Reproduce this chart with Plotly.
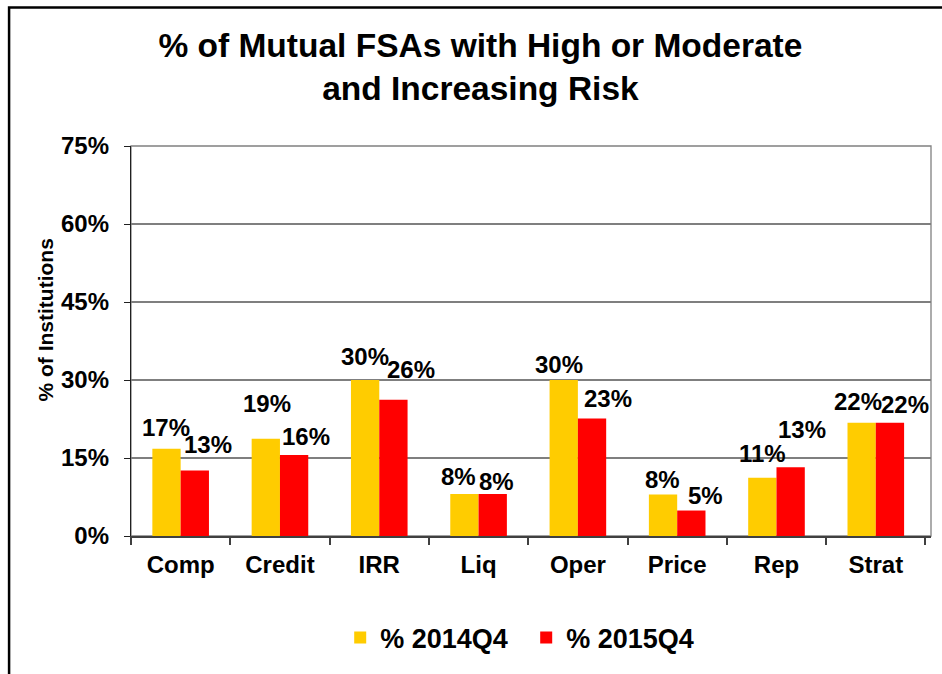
import plotly.graph_objects as go

categories = ["Comp", "Credit", "IRR", "Liq", "Oper", "Price", "Rep", "Strat"]
values_2014 = [16.8, 18.7, 30.0, 8.1, 30.0, 8.0, 11.2, 21.8]
values_2015 = [12.6, 15.6, 26.2, 8.1, 22.6, 4.9, 13.2, 21.8]
series_names = ["% 2014Q4", "% 2015Q4"]
y_ticks = [0, 15, 30, 45, 60, 75]

# label nudges (pixels): [x offset from bar centre, height of label centre above bar top]
nudge_2014 = [(0, 21), (1, 35), (0, 24), (-6, 17), (-5, 16), (0, 15), (0, 24), (-4, 21)]
nudge_2015 = [(13, 26), (12, 18), (18, 30), (4, 12), (16, 20), (14, 15), (11, 38), (15, 18)]

FONT = "Arial, Liberation Sans, sans-serif"
YELLOW = "#FFCC00"
RED = "#FF0000"

fig = go.Figure()
fig.add_trace(go.Bar(x=categories, y=values_2014, name=series_names[0],
                     marker=dict(color=YELLOW, line=dict(width=0))))
fig.add_trace(go.Bar(x=categories, y=values_2015, name=series_names[1],
                     marker=dict(color=RED, line=dict(width=0))))

half = 14.2
annotations = []
for vals, nudges, side in ((values_2014, nudge_2014, -1), (values_2015, nudge_2015, 1)):
    for c, v, (dx, dy) in zip(categories, vals, nudges):
        annotations.append(dict(
            x=c, y=v, xref="x", yref="y", text=f"{round(v)}%", showarrow=False,
            xanchor="center", yanchor="middle", xshift=side * half + dx, yshift=dy,
            font=dict(family=FONT, size=24, color="black", weight="bold")))

annotations.append(dict(
    x=-0.1068, y=0.554, xref="paper", yref="paper", text="% of Institutions",
    textangle=-90, showarrow=False, xanchor="center", yanchor="middle",
    font=dict(family=FONT, size=21, color="black", weight="bold")))

fig.update_layout(
    width=942, height=674,
    margin=dict(l=130.5, r=11, t=146, b=138),
    paper_bgcolor="white", plot_bgcolor="white",
    barmode="group", bargap=0.43, bargroupgap=0,
    title=dict(text="% of Mutual FSAs with High or Moderate<br>and Increasing Risk",
               x=0.51, xanchor="center", xref="container",
               y=1 - 56.5 / 674, yanchor="middle", yref="container",
               font=dict(family=FONT, size=33.5, color="black", weight="bold")),
    xaxis=dict(showline=True, linecolor="#404040", linewidth=2,
               ticks="outside", tickson="boundaries", ticklen=7, tickcolor="#404040",
               tickwidth=1.5, showgrid=False,
               tickfont=dict(family=FONT, size=24, color="black", weight="bold"),
               ticklabelstandoff=6),
    yaxis=dict(range=[0, 75], tickvals=y_ticks, ticktext=[f"{t}%" for t in y_ticks],
               showline=True, linecolor="#202020", linewidth=1.3,
               ticks="outside", ticklen=6, tickcolor="#202020", tickwidth=1.3,
               showgrid=True, gridcolor="#7f7f7f", gridwidth=1.5, zeroline=False,
               tickfont=dict(family=FONT, size=24, color="black", weight="bold"),
               ticklabelstandoff=10),
    showlegend=True,
    legend=dict(orientation="h", x=0.494, xanchor="center", y=-0.2615, yanchor="middle",
                font=dict(family=FONT, size=27, color="black", weight="bold"),
                itemwidth=30, entrywidth=141, entrywidthmode="pixels",
                traceorder="normal"),
    annotations=annotations,
    shapes=[
        dict(type="rect", xref="paper", yref="paper", x0=0, x1=1, y0=0, y1=1,
             line=dict(color="#808080", width=1.3), layer="below"),
        dict(type="rect", xref="paper", yref="paper", x0=-0.1524, x1=1.2, y0=-0.6, y1=1.3552,
             line=dict(color="black", width=2.5)),
    ],
)

fig.write_html("out.html", config={"displayModeBar": False},
               post_script="document.body.style.margin='0';")
